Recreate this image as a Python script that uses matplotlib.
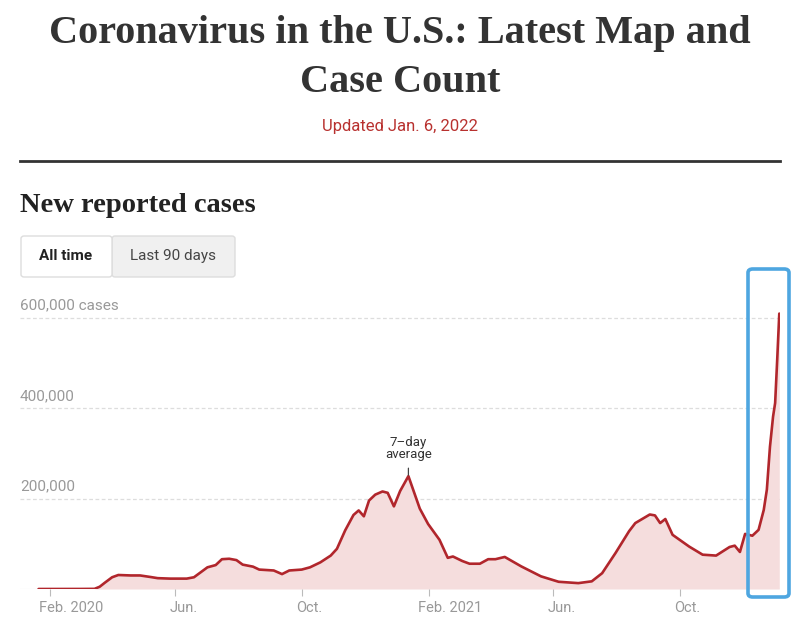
import matplotlib
matplotlib.use("Agg")
import matplotlib.pyplot as plt
import matplotlib.dates as mdates
import matplotlib.transforms as mtransforms
from matplotlib.patches import FancyBboxPatch
import numpy as np
import pandas as pd

# ---------------- data ----------------
dates = [
    "2020-01-21", "2020-03-01", "2020-03-15", "2020-03-20", "2020-03-25", "2020-04-01",
    "2020-04-07", "2020-04-19", "2020-04-28", "2020-05-08", "2020-05-15", "2020-05-27",
    "2020-06-12", "2020-06-19", "2020-07-02", "2020-07-10", "2020-07-16", "2020-07-23",
    "2020-07-30", "2020-08-05", "2020-08-15", "2020-08-21", "2020-09-04", "2020-09-12",
    "2020-09-19", "2020-10-01", "2020-10-09", "2020-10-19", "2020-10-29", "2020-11-04",
    "2020-11-12", "2020-11-20", "2020-11-25", "2020-11-30", "2020-12-05", "2020-12-11",
    "2020-12-18", "2020-12-23", "2020-12-29", "2021-01-04", "2021-01-12", "2021-01-23",
    "2021-01-31", "2021-02-11", "2021-02-19", "2021-02-24", "2021-03-05", "2021-03-12",
    "2021-03-22", "2021-03-30", "2021-04-06", "2021-04-15", "2021-05-01", "2021-05-20",
    "2021-06-06", "2021-06-25", "2021-07-08", "2021-07-18", "2021-07-31", "2021-08-13",
    "2021-08-19", "2021-09-02", "2021-09-07", "2021-09-12", "2021-09-17", "2021-09-24",
    "2021-10-10", "2021-10-23", "2021-11-05", "2021-11-18", "2021-11-23", "2021-11-28",
    "2021-12-03", "2021-12-10", "2021-12-16", "2021-12-21", "2021-12-24", "2021-12-27",
    "2021-12-30", "2022-01-01", "2022-01-03", "2022-01-05",
]
cases_k = [
    0, 0.1, 0.3, 5, 14, 26,
    31, 30, 30, 26.6, 24, 23,
    23, 26, 48, 53, 66, 67,
    64, 54, 49.5, 43, 41, 33,
    41, 43, 48, 59, 74, 89,
    130, 164, 174, 161, 196, 209,
    216, 213, 183, 217, 250, 178,
    144, 109, 69, 72, 62, 56,
    56, 66, 66, 71, 50, 28,
    16, 13, 17, 35, 80, 128,
    146, 165, 163, 146, 155, 120,
    94, 76, 74, 93, 96, 82,
    122, 118, 131, 175, 220, 315,
    382, 412, 508, 610,
]

y_ticks = [200000, 400000, 600000]
y_tick_labels = ["200,000", "400,000", "600,000 cases"]
x_ticks = ["2020-02-01", "2020-06-01", "2020-10-01", "2021-02-01", "2021-06-01", "2021-10-01"]
x_tick_labels = ["Feb. 2020", "Jun.", "Oct.", "Feb. 2021", "Jun.", "Oct."]

title_lines = ["Coronavirus in the U.S.: Latest Map and", "Case Count"]
updated = "Updated Jan. 6, 2022"
subtitle = "New reported cases"
buttons = ["All time", "Last 90 days"]

# ---------------- figure ----------------
W, H = 800, 621
fig = plt.figure(figsize=(W / 100, H / 100), dpi=100, facecolor="white")

def fx(px):
    return px / W

def fy(py):
    return 1 - py / H

SERIF = ["Liberation Serif", "DejaVu Serif"]
SANS = ["Roboto", "DejaVu Sans"]

fig.text(fx(400), fy(43), title_lines[0], ha="center", va="baseline",
         fontsize=29, fontweight="bold", family=SERIF, color="#333333")
fig.text(fx(400), fy(92), title_lines[1], ha="center", va="baseline",
         fontsize=29, fontweight="bold", family=SERIF, color="#333333")
fig.text(fx(400), fy(127), updated, ha="center", va="center",
         fontsize=12, family=SANS, color="#b8312f")

# divider line
fig.add_artist(plt.Line2D([fx(20), fx(780)], [fy(161), fy(161)], color="#333333", lw=2.0))

fig.text(fx(20), fy(212), subtitle, ha="left", va="baseline",
         fontsize=20.5, fontweight="bold", family=SERIF, color="#222222")

# buttons
fig.add_artist(FancyBboxPatch((fx(112), fy(277)), fx(235) - fx(112), fy(236) - fy(277),
                              boxstyle="round,pad=0,rounding_size=0.004",
                              transform=fig.transFigure, facecolor="#f0f0f0",
                              edgecolor="#dddddd", lw=1))
fig.add_artist(FancyBboxPatch((fx(21), fy(277)), fx(112) - fx(21), fy(236) - fy(277),
                              boxstyle="round,pad=0,rounding_size=0.004",
                              transform=fig.transFigure, facecolor="white",
                              edgecolor="#dddddd", lw=1))
fig.text(fx(66), fy(256), buttons[0], ha="center", va="center", fontsize=11,
         fontweight="bold", family=SANS, color="#222222")
fig.text(fx(173), fy(256), buttons[1], ha="center", va="center", fontsize=11,
         family=SANS, color="#444444")

# ---------------- chart ----------------
ax_left, ax_right = 20, 780
ax_top, ax_bottom = 300, 589.0
ax = fig.add_axes([fx(ax_left), fy(ax_bottom), fx(ax_right) - fx(ax_left), fy(ax_top) - fy(ax_bottom)])

d = pd.to_datetime(dates)
v = np.array(cases_k) * 1000

feb20 = mdates.date2num(pd.Timestamp("2020-02-01"))
oct21 = mdates.date2num(pd.Timestamp("2021-10-01"))
ppd = (680.7 - 50) / (oct21 - feb20)
xmin = feb20 - (50 - ax_left) / ppd
xmax = feb20 + (ax_right + 1 - 50) / ppd
ax.set_xlim(xmin, xmax)
ymax = (ax_bottom - ax_top) / 90.3 * 200000
ax.set_ylim(0, ymax)

ax.fill_between(d, 0, v, color="#f5dddd", lw=0, zorder=1)
ax.plot(d, v, color="#b1262c", lw=1.9, zorder=3, solid_joinstyle="round", solid_capstyle="round")

for t in y_ticks:
    ax.axhline(t, color="#dddddd", lw=0.9, ls=(0, (3, 2)), zorder=0)
ax.axhline(0, color="#e6e6e6", lw=0.8, zorder=0)

for spine in ax.spines.values():
    spine.set_visible(False)
ax.set_yticks([])
ax.set_xticks(mdates.date2num(pd.to_datetime(x_ticks)))
ax.set_xticklabels(x_tick_labels, fontsize=10.5, color="#999999", family=SANS, ha="left")
ax.tick_params(axis="x", length=5, color="#bbbbbb", width=0.8, pad=4)
for lab in ax.get_xticklabels():
    shift = -11 if lab.get_text().startswith("Feb") else -6
    lab.set_transform(lab.get_transform() + mtransforms.ScaledTranslation(shift / 100, 0, fig.dpi_scale_trans))
ax.patch.set_alpha(0)

for t, lab in zip(y_ticks, y_tick_labels):
    ax.text(0, t + 12000, lab, transform=ax.get_yaxis_transform(), ha="left", va="bottom",
            fontsize=11, color="#999999", family=SANS)

# annotation
peak_i = int(np.argmax(v[:60]))
ax.annotate("7\u2013day\naverage", xy=(d[peak_i], v[peak_i] + 2000),
            xytext=(d[peak_i], v[peak_i] + 33000), ha="center", va="bottom",
            fontsize=9.5, color="#333333", family=SANS, linespacing=0.95,
            arrowprops=dict(arrowstyle="-", color="#444444", lw=0.9, shrinkA=3, shrinkB=0))

# blue highlight box
fig.add_artist(FancyBboxPatch((fx(748), fy(597)), fx(789) - fx(748), fy(269) - fy(597),
                              boxstyle="round,pad=0,rounding_size=0.006",
                              transform=fig.transFigure, facecolor="none",
                              edgecolor="#4ea6e0", lw=2.6, zorder=10))

fig.savefig("out.png", dpi=100, facecolor="white")
